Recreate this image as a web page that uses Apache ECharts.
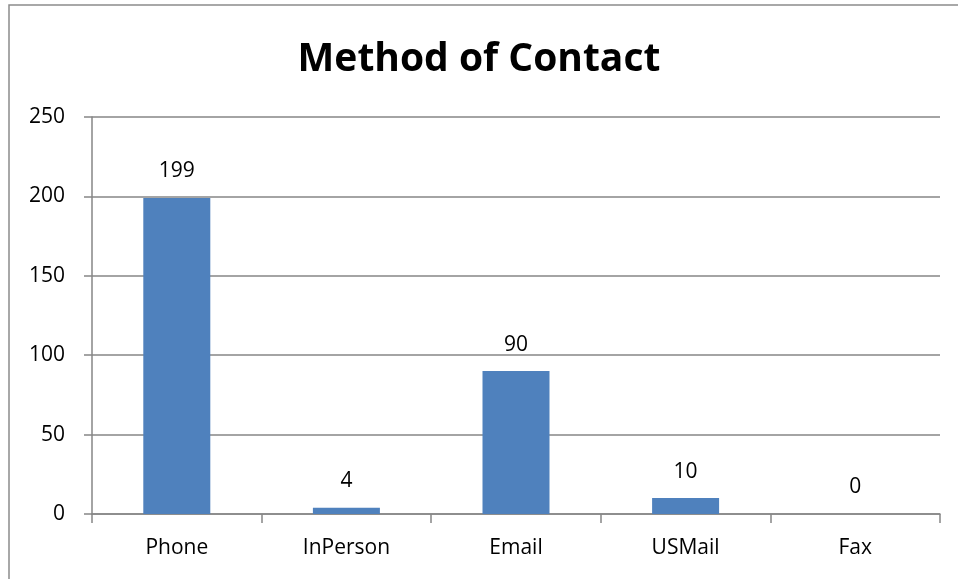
<!DOCTYPE html>
<html lang="en">
<head>
    <meta charset="UTF-8">
    <title>Method of Contact</title>
    <style>
        html, body { margin: 0; padding: 0; background: #fff; }
        #main { width: 958px; height: 579px; }
    </style>
    <script src="https://cdn.jsdelivr.net/npm/echarts@6/dist/echarts.min.js"></script>
</head>
<body>
<div id="main"></div>
<script>
    var categories = ['Phone', 'InPerson', 'Email', 'USMail', 'Fax'];
    var counts = [199, 4, 90, 10, 0];
    var yTicks = [0, 50, 100, 150, 200, 250];

    var myChart = echarts.init(document.getElementById('main'));
    var font = 'Open Sans, Liberation Sans, sans-serif';

    var option = {
        animation: false,
        backgroundColor: '#fff',
        title: {
            text: 'Method of Contact',
            left: 'center',
            top: 35,
            textStyle: { fontSize: 39, fontWeight: 'bold', color: '#000', fontFamily: font }
        },
        graphic: [{
            type: 'rect',
            shape: { x: 9, y: 5, width: 1000, height: 600 },
            style: { fill: 'none', stroke: '#8c8c8c', lineWidth: 1.5 },
            silent: true
        }],
        grid: { left: 92, right: 18, top: 117, bottom: 65 },
        xAxis: {
            type: 'category',
            data: categories,
            axisLine: { lineStyle: { color: '#868686', width: 1.5 } },
            axisTick: { show: true, length: 9, lineStyle: { color: '#868686', width: 1.5 } },
            axisLabel: { color: '#000', fontSize: 21, margin: 24, fontFamily: font }
        },
        yAxis: {
            type: 'value',
            min: yTicks[0],
            max: yTicks[yTicks.length - 1],
            interval: 50,
            axisLine: { show: true, lineStyle: { color: '#868686', width: 1.5 } },
            axisTick: { show: true, length: 8, lineStyle: { color: '#868686', width: 1.5 } },
            splitLine: { lineStyle: { color: '#868686', width: 1.5 } },
            axisLabel: { color: '#000', fontSize: 21, margin: 27, fontFamily: font }
        },
        series: [{
            type: 'bar',
            data: counts,
            barWidth: 67,
            itemStyle: { color: '#4f81bd' },
            label: {
                show: true,
                position: 'top',
                distance: 16,
                color: '#000',
                fontSize: 21,
                fontFamily: font
            }
        }]
    };
    myChart.setOption(option);
</script>
</body>
</html>
